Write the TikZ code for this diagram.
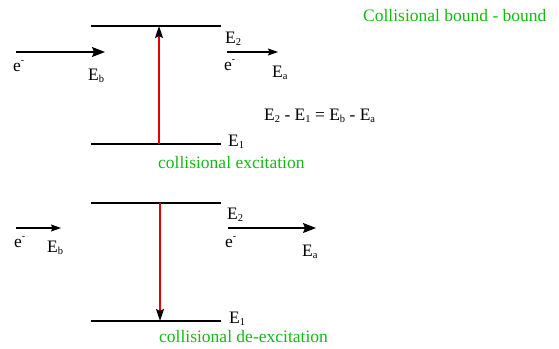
\documentclass[tikz,border=0pt]{standalone}
\usepackage{fontspec}
\setmainfont{Liberation Serif}
\usetikzlibrary{arrows.meta}
\definecolor{labgreen}{RGB}{20,185,20}
\definecolor{tred}{RGB}{230,0,0}
\tikzset{
  level/.style={line width=1.8pt},
  lbl/.style={anchor=base west,inner sep=0pt,font=\fontsize{17.5}{20}\selectfont},
  glbl/.style={lbl,text=labgreen},
  bigarr/.style={line width=1.1pt,-{Stealth[length=13pt,width=10pt,inset=2pt]}},
  smallarr/.style={line width=1.1pt,-{Stealth[length=10pt,width=7pt,inset=1.5pt]}},
  trans/.style={tred,line width=1.8pt,-{Stealth[length=12pt,width=8pt,inset=2pt,color=black]}}
}
\newcommand{\elec}{e\raisebox{0.9ex}{\fontsize{10}{10}\selectfont -}}
\newcommand{\lsub}[1]{\raisebox{-0.35ex}{\fontsize{10.5}{10}\selectfont #1}}
\begin{document}
\begin{tikzpicture}[x=1pt,y=-1pt]
\useasboundingbox (0,0) rectangle (559,348);
% top panel
\coordinate (t2l) at (91,26);  \coordinate (t2r) at (221,26);
\coordinate (t1l) at (91,144); \coordinate (t1r) at (221,144);
\draw[level] (t2l) -- (t2r);
\draw[level] (t1l) -- (t1r);
\coordinate (tlo) at (159,144); \coordinate (thi) at (159,26);
\draw[trans] (tlo) -- (thi);
\coordinate (tin0) at (16,52); \coordinate (tin1) at (105,52);
\draw[bigarr] (tin0) -- (tin1);
\coordinate (tout0) at (227,52); \coordinate (tout1) at (278,52);
\draw[smallarr] (tout0) -- (tout1);
\node[lbl] (te1) at (13,71) {\elec};
\node[lbl] (teb) at (88,80) {E\lsub{b}};
\node[lbl] (tE2) at (225,43) {E\lsub{2}};
\node[lbl] (tE1) at (228,146) {E\lsub{1}};
\node[lbl] (te2) at (224,70) {\elec};
\node[lbl] (tea) at (272,77) {E\lsub{a}};
\node[lbl] (eq) at (264,120) {E\lsub{2} - E\lsub{1} = E\lsub{b} - E\lsub{a}};
\node[glbl] (title) at (363,21) {Collisional bound - bound};
\node[glbl] (exc) at (158,168) {collisional excitation};
% bottom panel
\coordinate (b2l) at (91,203);  \coordinate (b2r) at (221,203);
\coordinate (b1l) at (91,321); \coordinate (b1r) at (221,321);
\draw[level] (b2l) -- (b2r);
\draw[level] (b1l) -- (b1r);
\coordinate (bhi) at (160,203); \coordinate (blo) at (160,321);
\draw[trans] (bhi) -- (blo);
\coordinate (bin0) at (16,228); \coordinate (bin1) at (61,228);
\draw[smallarr] (bin0) -- (bin1);
\coordinate (bout0) at (228,228); \coordinate (bout1) at (316,228);
\draw[bigarr] (bout0) -- (bout1);
\node[lbl] (be1) at (14,247) {\elec};
\node[lbl] (beb) at (47,252) {E\lsub{b}};
\node[lbl] (bE2) at (227,219) {E\lsub{2}};
\node[lbl] (bE1) at (229,323) {E\lsub{1}};
\node[lbl] (be2) at (225,247) {\elec};
\node[lbl] (bea) at (302,256) {E\lsub{a}};
\node[glbl] (dexc) at (159,342) {collisional de-excitation};
\end{tikzpicture}
\end{document}
